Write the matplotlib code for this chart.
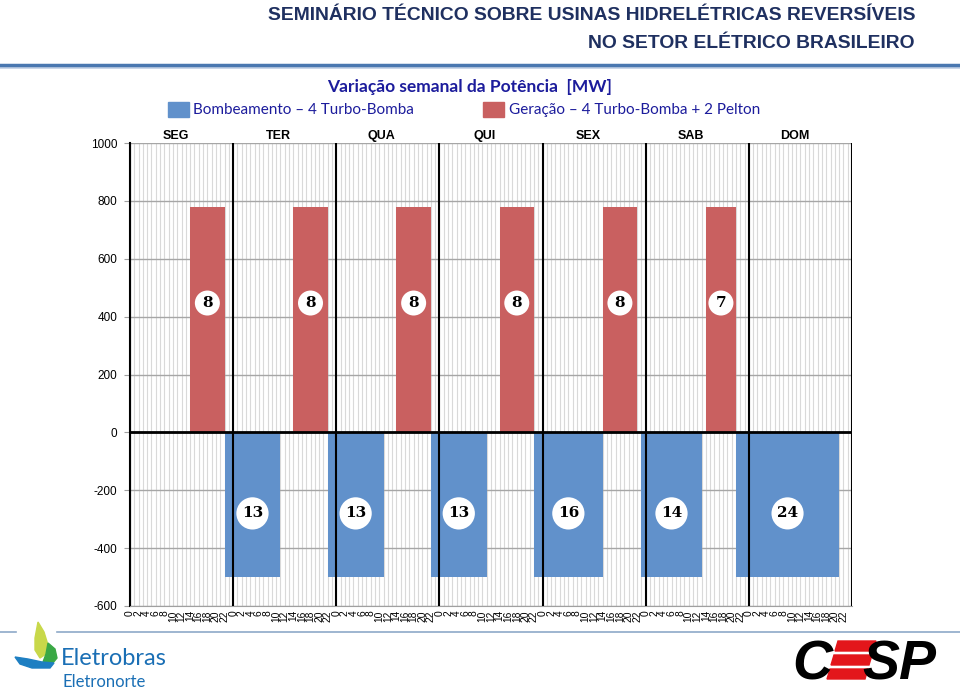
import matplotlib
matplotlib.use('Agg')
import matplotlib.pyplot as plt
import matplotlib.transforms as mtransforms
from matplotlib import font_manager
from matplotlib.patches import Rectangle, Polygon
from matplotlib.lines import Line2D

# dados: semana em horas (0..168)
dias = ['SEG', 'TER', 'QUA', 'QUI', 'SEX', 'SAB', 'DOM']
horas_rotulo = [0, 2, 4, 6, 8, 10, 12, 14, 16, 18, 20, 22]
y_ticks = [1000, 800, 600, 400, 200, 0, -200, -400, -600]

ger_inicio = [14, 38, 62, 86, 110, 134]
ger_duracao = [8, 8, 8, 8, 8, 7]
ger_potencia = [780, 780, 780, 780, 780, 780]

bomb_inicio = [22, 46, 70, 94, 119, 141]
bomb_duracao = [13, 13, 13, 16, 14, 24]
bomb_potencia = [-500, -500, -500, -500, -500, -500]

cor_ger = '#C96060'
cor_bomb = '#6191CB'
azul_txt = '#1C1C9C'

W, H = 960, 692


def px(x, y):
    return (x / W, 1 - y / H)


nomes = {f.name for f in font_manager.fontManager.ttflist}
if 'Liberation Sans Narrow' in nomes:
    fonte_tit, tam_tit = 'Liberation Sans Narrow', 15.3
else:
    fonte_tit, tam_tit = 'Liberation Sans', 13.9

fig = plt.figure(figsize=(9.6, 6.92), dpi=100)
x0, y0 = px(130, 606)
x1, y1 = px(852, 143)
ax = fig.add_axes([x0, y0, x1 - x0, y1 - y0])

# barras
ax.bar(ger_inicio, ger_potencia, width=ger_duracao, align='edge',
       color=cor_ger, zorder=2)
ax.bar(bomb_inicio, bomb_potencia, width=bomb_duracao, align='edge',
       color=cor_bomb, zorder=2)

# rotulos com numero de horas
for ini, dur in zip(ger_inicio, ger_duracao):
    ax.text(ini + dur / 2, 447, str(dur), ha='center', va='center',
            fontsize=11, fontweight='bold', family='DejaVu Serif', zorder=6,
            bbox=dict(boxstyle='circle,pad=0.36', fc='white', ec='none'))
for ini, dur in zip(bomb_inicio, bomb_duracao):
    ax.text(ini + dur / 2, -280, str(dur), ha='center', va='center',
            fontsize=11, fontweight='bold', family='DejaVu Serif', zorder=6,
            bbox=dict(boxstyle='circle,pad=0.36', fc='white', ec='none'))

ax.set_xlim(0, 24 * len(dias))
ax.set_ylim(-600, 1000)

# eixos e grades
ax.set_xticks(range(0, 24 * len(dias), 2))
ax.set_xticklabels([str(h) for d in dias for h in horas_rotulo],
                   rotation=90, fontsize=7.4, family='Liberation Sans')
ax.set_xticks(range(0, 24 * len(dias) + 1), minor=True)
ax.set_yticks(y_ticks)
ax.set_yticklabels([str(v) for v in y_ticks], fontsize=8.5,
                   family='Liberation Sans')
ax.tick_params(axis='x', which='both', length=0, pad=3)
ax.tick_params(axis='y', length=4, color='#A0A0A0', pad=5)
ax.set_axisbelow(True)
ax.grid(axis='x', which='both', color='#D9D9D9', lw=0.8)
ax.grid(axis='y', which='major', color='#A6A6A6', lw=1.0)

for s in ['top', 'right']:
    ax.spines[s].set_visible(False)
ax.spines['bottom'].set_color('#A0A0A0')
ax.spines['left'].set_color('black')
ax.spines['left'].set_linewidth(1.5)

for i in range(len(dias) + 1):
    ax.axvline(24 * i, color='black', lw=1.5, zorder=3)
ax.axhline(0, color='black', lw=2, zorder=3)

trans = mtransforms.blended_transform_factory(ax.transData, ax.transAxes)
for i, d in enumerate(dias):
    ax.text(24 * i + 10.6, 1.003, d, transform=trans, ha='center',
            va='bottom', fontsize=9, fontweight='bold', family='Liberation Sans')

# cabecalho
fig.text(*px(915, 15), 'SEMINÁRIO TÉCNICO SOBRE USINAS HIDRELÉTRICAS REVERSÍVEIS',
         ha='right', va='center', fontsize=tam_tit, fontweight='bold',
         family=fonte_tit, color='#1F3060')
fig.text(*px(915, 44), 'NO SETOR ELÉTRICO BRASILEIRO',
         ha='right', va='center', fontsize=tam_tit, fontweight='bold',
         family=fonte_tit, color='#1F3060')
fig.add_artist(Line2D([0, 1], [1 - 67 / H, 1 - 67 / H], color='#C5D3E6', lw=2))
fig.add_artist(Line2D([0, 1], [1 - 65 / H, 1 - 65 / H], color='#4A78B0', lw=2.5))

fig.text(*px(470, 87), 'Variação semanal da Potência  [MW]', ha='center',
         va='center', fontsize=12.5, fontweight='bold', family='Lato',
         color=azul_txt)

# legenda
fig.add_artist(Rectangle(px(168, 117), 21 / W, 15 / H, transform=fig.transFigure,
                         color=cor_bomb))
fig.text(*px(193, 110), 'Bombeamento – 4 Turbo-Bomba', ha='left', va='center',
         fontsize=11, family='Lato', color=azul_txt)
fig.add_artist(Rectangle(px(483, 117), 21 / W, 15 / H, transform=fig.transFigure,
                         color=cor_ger))
fig.text(*px(509, 110), 'Geração – 4 Turbo-Bomba + 2 Pelton', ha='left',
         va='center', fontsize=11, family='Lato', color=azul_txt)

# rodape
yl = 1 - 632 / H
fig.add_artist(Line2D([0, 16 / W], [yl, yl], color='#8EA9C8', lw=1.2))
fig.add_artist(Line2D([57 / W, 1], [yl, yl], color='#8EA9C8', lw=1.2))

fig.add_artist(Polygon([px(*p) for p in [(38, 622), (44, 632), (48, 645), (46, 654),
                                          (40, 658), (35, 650), (35, 638)]],
                       closed=True, transform=fig.transFigure, color='#C8D84A'))
fig.add_artist(Polygon([px(*p) for p in [(48, 643), (55, 649), (57, 658), (52, 664),
                                          (43, 662), (46, 654)]],
                       closed=True, transform=fig.transFigure, color='#3AA845'))
fig.add_artist(Polygon([px(*p) for p in [(15, 657), (28, 659), (42, 662), (54, 663),
                                          (50, 668), (32, 668), (20, 664)]],
                       closed=True, transform=fig.transFigure, color='#1E7FC2'))
fig.text(*px(61, 665), 'Eletrobras', ha='left', va='baseline', fontsize=17,
         family='Lato', color='#1A6FB5')
fig.text(*px(62, 687), 'Eletronorte', ha='left', va='baseline', fontsize=12,
         family='Lato', color='#1A6FB5')

fig.text(*px(792, 680), 'C', ha='left', va='baseline', fontsize=40,
         fontweight='bold', style='italic', family='Liberation Sans', color='black')
for ytop, xl in [(641, 838), (655, 834), (669, 830)]:
    hgt = 10
    fig.add_artist(Polygon([px(xl, ytop), px(xl + 38, ytop),
                            px(xl + 38 - 0.3 * hgt, ytop + hgt),
                            px(xl - 0.3 * hgt, ytop + hgt)],
                           closed=True, transform=fig.transFigure, color='#E3161B'))
fig.text(*px(862, 680), 'SP', ha='left', va='baseline', fontsize=40,
         fontweight='bold', style='italic', family='Liberation Sans', color='black')

fig.savefig('out.png', dpi=100)
